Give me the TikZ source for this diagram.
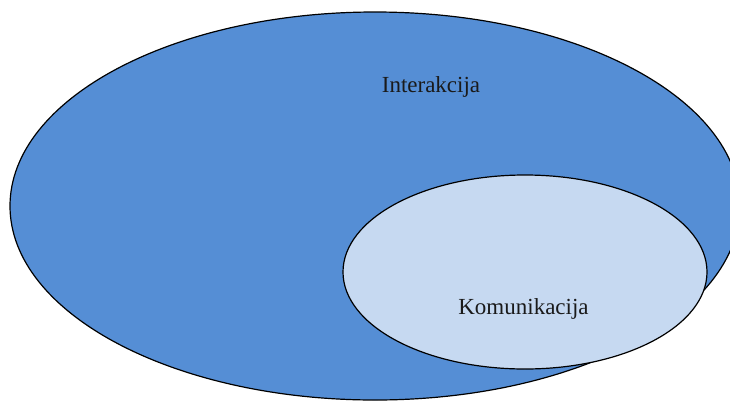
\documentclass[tikz,border=0pt]{standalone}
\usepackage{fontspec}
\setmainfont{Liberation Serif}
\definecolor{bigblue}{HTML}{558ED5}
\definecolor{lightblue}{HTML}{C6D9F1}
\definecolor{txt}{HTML}{1A1A1A}
\begin{document}
\begin{tikzpicture}[x=1pt,y=-1pt,
  setbox/.style={draw=black,line width=1.2pt},
  lbl/.style={anchor=base,inner sep=0pt,text=txt,font=\fontsize{23}{28}\selectfont}]
\useasboundingbox (0,0) rectangle (730,402);
\begin{scope}
\clip (0,0) rectangle (730,402);
\path[setbox,fill=bigblue] (375,206) ellipse [x radius=365,y radius=194];
\end{scope}
\path[setbox,fill=lightblue] (525,272) ellipse [x radius=182,y radius=97];
\node[lbl] (inter) at (431,92) {Interakcija};
\node[lbl] (komu) at (523.5,314) {Komunikacija};
\end{tikzpicture}
\end{document}
